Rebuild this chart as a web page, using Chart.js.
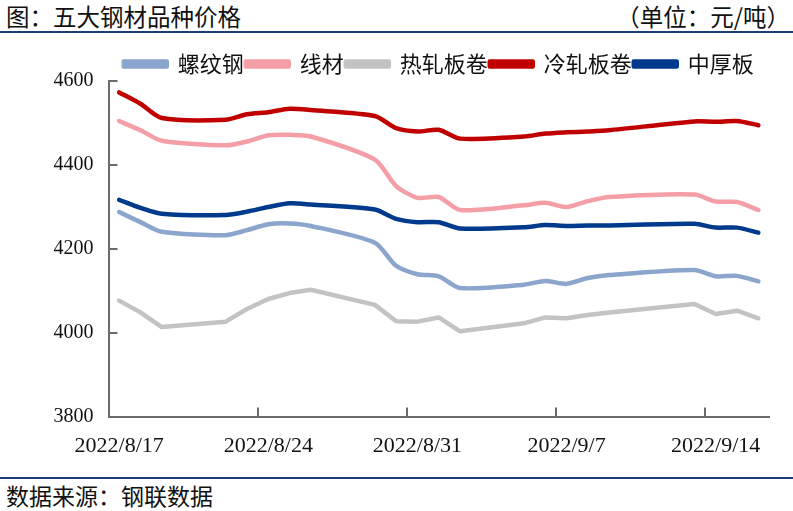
<!DOCTYPE html>
<html>
<head>
<meta charset="utf-8">
<script src="https://cdn.jsdelivr.net/npm/chart.js@4/dist/chart.umd.min.js"></script>
<style>
    body { margin: 0; background: #fff; }
    #wrap { position: relative; width: 793px; height: 511px; overflow: hidden; background: #fff; }
    .txt { position: absolute; font-family: "Noto Sans CJK SC", sans-serif; font-size: 23.5px; line-height: 28px; color: #111; white-space: nowrap; }
    #title { left: 6px; top: 2px; }
    #unit { right: 3px; top: 2px; }
    #source { left: 6px; top: 481px; font-size: 23px; }
    .rule { position: absolute; left: 0; width: 793px; height: 2px; background: #1f3d7a; }
    #chartBox { position: absolute; left: 0; top: 36px; width: 793px; height: 440px; }
</style>
</head>
<body>
<div id="wrap">
    <div class="txt" id="title">图：五大钢材品种价格</div>
    <div class="txt" id="unit">（单位：元/吨）</div>
    <div class="rule" style="top:31px"></div>
    <div id="chartBox"><canvas id="priceChart"></canvas></div>
    <div class="rule" style="top:477px"></div>
    <div class="txt" id="source">数据来源：钢联数据</div>
</div>
<script>
// Trading days (9/12 was a holiday)
const tradeDates = ['2022/8/17', '2022/8/18', '2022/8/19', '2022/8/22', '2022/8/23', '2022/8/24', '2022/8/25', '2022/8/26',
    '2022/8/29', '2022/8/30', '2022/8/31', '2022/9/1', '2022/9/2', '2022/9/5', '2022/9/6', '2022/9/7', '2022/9/8', '2022/9/9',
    '2022/9/13', '2022/9/14', '2022/9/15', '2022/9/16'];

const rebar  = [4287, 4263, 4240, 4232, 4244, 4258, 4260, 4254, 4214, 4159, 4139, 4134, 4106, 4114, 4123, 4116, 4130, 4137, 4149, 4134, 4135, 4122];
const wire   = [4504, 4482, 4457, 4446, 4455, 4470, 4471, 4467, 4412, 4349, 4321, 4323, 4292, 4303, 4309, 4299, 4313, 4323, 4329, 4312, 4311, 4292];
const hrc    = [4076, 4048, 4013, 4026, 4056, 4080, 4094, 4102, 4066, 4027, 4026, 4036, 4003, 4022, 4036, 4034, 4042, 4048, 4068, 4044, 4052, 4034];
const crc    = [4572, 4545, 4511, 4507, 4520, 4525, 4533, 4530, 4516, 4487, 4479, 4483, 4462, 4467, 4474, 4477, 4479, 4482, 4503, 4502, 4504, 4494];
const plate  = [4316, 4297, 4283, 4280, 4288, 4299, 4308, 4305, 4293, 4271, 4263, 4263, 4248, 4251, 4256, 4254, 4255, 4255, 4259, 4250, 4250, 4238];

const seriesNames = ['螺纹钢', '线材', '热轧板卷', '冷轧板卷', '中厚板'];
const seriesColors = ['#8ca5cc', '#f49ea8', '#c3c3c3', '#c00000', '#003a8c'];

// x axis: calendar days from 8/17, each day one cell, labels every 7 days
const xTickLabels = ['2022/8/17', '2022/8/24', '2022/8/31', '2022/9/7', '2022/9/14'];
const yTickValues = [3800, 4000, 4200, 4400, 4600];

const startMs = Date.parse(tradeDates[0]);
const dayOf = d => Math.round((Date.parse(d) - startMs) / 86400000);
const toPoints = vals => vals.map((v, i) => ({ x: dayOf(tradeDates[i]), y: v }));

const axisColor = '#6b6b6b';

// tick marks drawn inward like the original
const innerTicks = {
    id: 'innerTicks',
    afterDraw(chart) {
        const { ctx, chartArea, scales } = chart;
        ctx.save();
        ctx.strokeStyle = axisColor;
        ctx.lineWidth = 2;
        ctx.beginPath();
        yTickValues.forEach(v => {
            const py = Math.round(scales.y.getPixelForValue(v));
            ctx.moveTo(chartArea.left, py);
            ctx.lineTo(chartArea.left + 9, py);
        });
        xTickLabels.forEach(lbl => {
            const px = Math.round(scales.x.getPixelForValue(dayOf(lbl) - 0.5));
            ctx.moveTo(px, chartArea.bottom);
            ctx.lineTo(px, chartArea.bottom - 9);
        });
        ctx.stroke();
        ctx.restore();
    }
};

const datasets = [rebar, wire, hrc, crc, plate].map((vals, i) => ({
    label: seriesNames[i],
    data: toPoints(vals),
    borderColor: seriesColors[i],
    backgroundColor: seriesColors[i],
    borderWidth: 4.5,
    pointRadius: 0,
    tension: i === 2 ? 0 : 0.25,
    borderJoinStyle: 'round',
    borderCapStyle: 'round'
}));

new Chart(document.getElementById('priceChart'), {
    type: 'line',
    data: { datasets },
    options: {
        responsive: true,
        maintainAspectRatio: false,
        animation: false,
        layout: { padding: { top: 15, right: 24, left: 0, bottom: 0 } },
        plugins: {
            legend: {
                position: 'top',
                fullSize: false,
                maxHeight: 29.7,
                labels: {
                    boxWidth: 43,
                    boxHeight: 5,
                    padding: 2,
                    color: '#111',
                    font: { family: '"Noto Sans CJK SC"', size: 22 }
                }
            },
            tooltip: { enabled: false }
        },
        scales: {
            x: {
                type: 'linear',
                min: -0.5,
                max: dayOf(tradeDates[tradeDates.length - 1]) + 0.5,
                grid: { display: false, drawTicks: false },
                border: { display: true, color: axisColor, width: 2 },
                afterBuildTicks: scale => {
                    scale.ticks = xTickLabels.map(l => ({ value: dayOf(l) }));
                },
                afterFit: scale => { scale.height = 59.5; },
                ticks: {
                    autoSkip: false,
                    maxRotation: 0,
                    padding: 17,
                    color: '#111',
                    font: { family: '"Liberation Serif"', size: 22 },
                    callback: (v, i) => xTickLabels[i]
                }
            },
            y: {
                min: 3800,
                max: 4600,
                grid: { display: false, drawTicks: false },
                border: { display: true, color: axisColor, width: 2 },
                afterBuildTicks: scale => {
                    scale.ticks = yTickValues.map(v => ({ value: v }));
                },
                afterFit: scale => { scale.width = 108.5; },
                ticks: {
                    padding: 15,
                    color: '#111',
                    font: { family: '"Liberation Serif"', size: 20 },
                    callback: v => String(v)
                }
            }
        }
    },
    plugins: [innerTicks]
});
</script>
</body>
</html>
